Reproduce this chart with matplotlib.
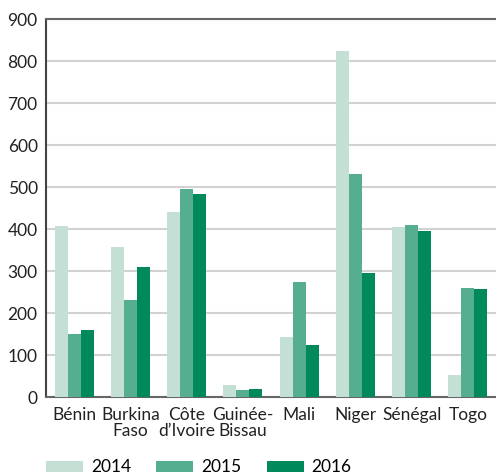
import matplotlib
matplotlib.use("agg")
import matplotlib.pyplot as plt
import numpy as np

plt.rcParams['font.family'] = ['Lato', 'DejaVu Sans']

countries = ["Bénin", "Burkina\nFaso", "Côte\nd’Ivoire", "Guinée-\nBissau",
             "Mali", "Niger", "Sénégal", "Togo"]
years = ["2014", "2015", "2016"]
v2014 = [406, 356, 440, 29, 144, 824, 404, 53]
v2015 = [149, 232, 495, 17, 275, 531, 409, 259]
v2016 = [160, 309, 483, 20, 125, 295, 395, 256]
colors = ["#c4e0d5", "#55ae90", "#00895b"]

fig = plt.figure(figsize=(4.96, 4.76), dpi=100)
ax = fig.add_axes([46 / 496, 1 - 397 / 476, 450 / 496, 378 / 476])

x = np.arange(len(countries))
w = 0.23
for i, (vals, c, lab) in enumerate(zip([v2014, v2015, v2016], colors, years)):
    ax.bar(x + (i - 1) * w, vals, w, color=c, label=lab, zorder=3)

ax.set_xlim(-0.5, len(countries) - 0.5)
ax.set_ylim(0, 900)
ax.set_yticks(range(0, 1000, 100))
ax.set_xticks(x)
ax.set_xticklabels(countries, fontsize=12.5, color="#222222", linespacing=1.0)
ax.tick_params(axis="both", length=0, labelsize=12.5, colors="#222222")
ax.tick_params(axis="y", pad=6)
ax.tick_params(axis="x", pad=7)
ax.grid(axis="y", color="#d2d2d2", linewidth=1.5, zorder=0)

ax.spines["right"].set_visible(False)
ax.spines["top"].set_color("#666666")
ax.spines["top"].set_linewidth(1.5)
ax.spines["left"].set_color("#444444")
ax.spines["left"].set_linewidth(1.5)
ax.spines["bottom"].set_color("#666666")
ax.spines["bottom"].set_linewidth(1.5)

fig.legend(loc="center left", bbox_to_anchor=(46 / 496, 1 - 467.5 / 476), ncol=3,
           frameon=False, fontsize=12.5, handlelength=2.13, handleheight=0.62,
           columnspacing=1.45, handletextpad=0.46, borderpad=0, borderaxespad=0)

fig.savefig("out.png", dpi=100)
